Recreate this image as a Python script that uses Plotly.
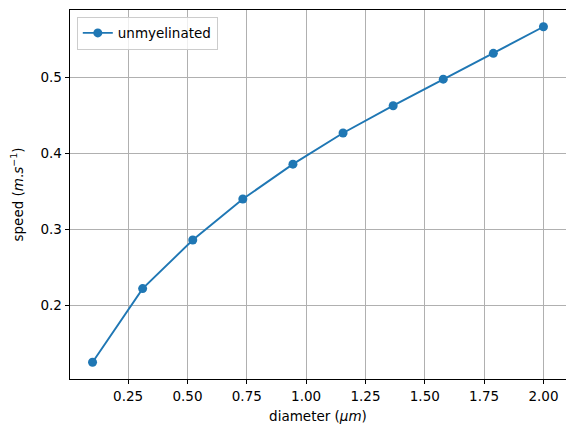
import plotly.graph_objects as go

diameter = [0.1, 0.3111, 0.5222, 0.7333, 0.9444, 1.1556, 1.3667, 1.5778, 1.7889, 2.0]
speed = [0.125, 0.222, 0.286, 0.340, 0.386, 0.427, 0.463, 0.498, 0.532, 0.567]
series_name = "unmyelinated"

FONT = "DejaVu Sans"
fs = 13.5

fig = go.Figure()
fig.add_trace(go.Scatter(
    x=diameter, y=speed, mode="lines+markers", name=series_name,
    line=dict(color="#1f77b4", width=1.9),
    marker=dict(color="#1f77b4", size=9),
))

axis_common = dict(
    showgrid=True, gridcolor="#b0b0b0", gridwidth=1,
    showline=True, linecolor="black", linewidth=1, mirror=True,
    ticks="outside", ticklen=4.4, tickwidth=1, tickcolor="black",
    zeroline=False, automargin=False,
    tickfont=dict(family=FONT, size=fs, color="black"),
)

# page body has an 8px margin, so the figure is sized/offset to compensate
fig.update_layout(
    width=566, height=428,
    margin=dict(l=61.5, r=8.3, t=1.5, b=56.7),
    paper_bgcolor="white", plot_bgcolor="white",
    font=dict(family=FONT, size=fs, color="black"),
    showlegend=True,
    legend=dict(
        x=0.0137, y=0.982, xanchor="left", yanchor="top",
        bgcolor="rgba(255,255,255,0.8)", bordercolor="#cccccc", borderwidth=1,
        font=dict(family=FONT, size=fs, color="black"),
    ),
    xaxis=dict(
        range=[0.005, 2.095], tick0=0, dtick=0.25, tickformat=".2f",
        title=dict(text="diameter (<i>μm</i>)", font=dict(family=FONT, size=fs), standoff=8),
        **axis_common,
    ),
    yaxis=dict(
        range=[0.1029, 0.5891], tick0=0, dtick=0.1, tickformat=".1f",
        title=dict(text="speed (<i>m</i>.<i>s</i><sup>−1</sup>)", font=dict(family=FONT, size=fs), standoff=15),
        **axis_common,
    ),
)

fig.write_html("out.html")
